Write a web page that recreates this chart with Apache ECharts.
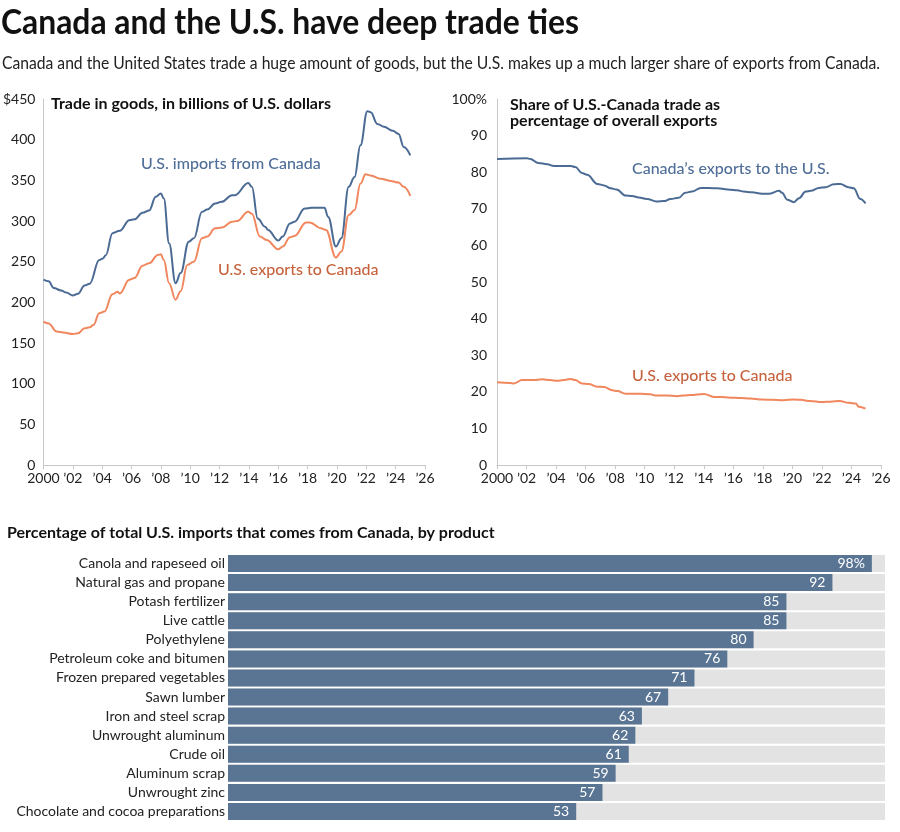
<!DOCTYPE html>
<html><head><meta charset="utf-8">
<script src="https://cdn.jsdelivr.net/npm/echarts@6/dist/echarts.min.js"></script>
<style>html,body{margin:0;padding:0;background:#fff}#c{width:900px;height:832px}</style>
</head><body><div id="c"></div>
<script>
// Left chart: trade in goods (billions USD)
const importsYears = [2000,2000.35,2000.7,2001.2,2001.55,2002.0,2002.35,2002.8,2003.15,2003.8,2004.05,2004.25,2004.7,2005.2,2005.85,2006.2,2006.75,2007.2,2007.65,2008.0,2008.2,2008.56,2009.0,2009.35,2009.9,2010.25,2010.8,2011.15,2011.7,2012.15,2012.85,2013.05,2013.95,2014.2,2014.6,2015.1,2015.3,2016.0,2016.3,2016.8,2017.1,2017.8,2018.25,2019.15,2019.4,2019.93,2020.3,2020.8,2021.2,2021.6,2022.07,2022.3,2022.75,2023.2,2023.8,2024.2,2024.55,2025.0];
const importsValues = [228,226,217.5,214.7,212,208.5,210.6,220.8,223,252,254,258,285,288,301,302,310,313,329.7,333.8,327.6,272.6,223.6,236,274.6,278.7,311.3,314,321.5,323.6,331.7,331.7,346.8,342,303,293,289,275.9,280.8,297,299,315.4,316.2,316.2,305,268.5,278.7,342,354,393,435,433.7,419.4,416,411,407,391,380.7];
const exportsYears = [2000,2000.35,2000.9,2001.35,2002.0,2002.35,2002.8,2003.15,2003.4,2003.8,2004.15,2004.7,2005.05,2005.2,2005.85,2006.2,2006.75,2007.2,2007.8,2008.0,2008.2,2008.56,2009.0,2009.35,2009.8,2010.25,2010.8,2011.15,2011.7,2012.15,2012.85,2013.2,2013.95,2014.2,2014.75,2015.2,2016.0,2016.3,2016.8,2017.1,2017.9,2018.15,2018.9,2019.25,2019.93,2020.3,2020.8,2021.2,2021.6,2021.95,2022.3,2022.97,2023.65,2024.2,2024.55,2025.0];
const exportsValues = [176.3,174,164,163,161,162,168,169.4,172,186.5,188.6,210,213,211,227.7,229.8,245,248,258.3,259,252,223.6,203.3,213.5,246,250,278.7,280.8,291,292,299,300,311.3,309,280.8,276.7,265.3,268.5,280,281.6,298.3,298.3,291,289,255,262.4,307.3,313.4,346,357.4,356,352,349.3,347.2,342,331];

// Right chart: share of trade as % of overall exports
const canShareYears = [2000,2002.03,2002.25,2002.8,2003.4,2003.85,2005.0,2005.3,2005.75,2006.1,2006.8,2007.25,2007.7,2008.1,2008.7,2009.15,2009.6,2010.15,2010.8,2011.3,2011.75,2012.3,2012.75,2013.2,2013.8,2014.9,2015.8,2016.25,2016.7,2017.25,2017.95,2018.4,2019.1,2019.3,2019.65,2020.1,2020.45,2020.9,2021.25,2021.8,2022.25,2022.8,2023.25,2023.8,2024.15,2024.6,2024.95];
const canShareValues = [83.6,83.8,83.6,82.5,82.2,81.7,81.7,81.4,79.8,79.3,76.8,76.4,75.6,75.3,73.6,73.5,73.1,72.7,72,72.1,72.7,73,74.4,74.7,75.7,75.6,75.2,75.1,74.7,74.5,74.1,74.1,74.9,74.4,72.5,71.8,72.9,74.7,74.9,75.7,75.9,76.7,76.8,75.9,75.6,72.7,71.5];
const usShareYears = [2000,2000.9,2001.15,2001.7,2002.5,2003.05,2003.6,2004.06,2004.5,2004.97,2005.3,2005.75,2006.2,2006.8,2007.25,2007.8,2008.15,2008.7,2009.15,2009.7,2010.4,2010.7,2011.5,2012.2,2012.65,2013.1,2014.0,2014.7,2015.15,2015.8,2016.5,2017.15,2017.95,2018.6,2019.4,2020.1,2020.55,2021.2,2022.0,2022.6,2023.2,2023.8,2024.3,2024.5,2024.95];
const usShareValues = [22.6,22.4,22.3,23.2,23.2,23.4,23.2,23,23.2,23.5,23.2,22.3,22.1,21.4,21.3,20.4,20.2,19.5,19.5,19.5,19.3,19,19,18.8,19,19.1,19.4,18.6,18.6,18.4,18.3,18.2,17.9,17.8,17.7,17.9,17.8,17.5,17.2,17.3,17.5,17,16.8,15.9,15.4];

// Bottom chart: share of U.S. imports from Canada by product
const products = ['Canola and rapeseed oil','Natural gas and propane','Potash fertilizer','Live cattle','Polyethylene','Petroleum coke and bitumen','Frozen prepared vegetables','Sawn lumber','Iron and steel scrap','Unwrought aluminum','Crude oil','Aluminum scrap','Unwrought zinc','Chocolate and cocoa preparations'];
const productShares = [98,92,85,85,80,76,71,67,63,62,61,59,57,53];

const FONT = 'Lato, "Open Sans", sans-serif';
const BLUE = '#4c6b94', ORANGE = '#f1875e', BLUE_T = '#4f6e98', ORANGE_T = '#c6633e', BAR = '#5a7594';
const zip = (a, b) => a.map((x, i) => [x, b[i]]);
const yearFmt = v => v === 2000 ? '2000' : '\u2019' + String(v).slice(2);

const TITLE = 'Canada and the U.S. have deep trade ties';
const SUB = 'Canada and the United States trade a huge amount of goods, but the U.S. makes up a much larger share of exports from Canada.';
const TITLE_FONT = 'bold 35px Lato';
const SUB_FONT = '17px Lato';
const mctx = document.createElement('canvas').getContext('2d');
const measure = (t, f) => { mctx.font = f; return mctx.measureText(t).width; };
const titleScale = 578 / measure(TITLE, TITLE_FONT);
const subScale = 878 / measure(SUB, SUB_FONT);

const chart = echarts.init(document.getElementById('c'), null, {renderer: 'canvas'});

const xAxisBase = {
  type: 'value', min: 2000, max: 2026, interval: 2,
  axisLine: {show: true, lineStyle: {color: '#c8c8c8', width: 1}},
  axisTick: {show: true, length: 4, lineStyle: {color: '#c8c8c8'}},
  splitLine: {show: false},
  axisLabel: {formatter: yearFmt, color: '#222', fontSize: 14, fontFamily: FONT, margin: 6}
};
const yAxisBase = {
  type: 'value', min: 0,
  axisLine: {show: true, lineStyle: {color: '#c8c8c8', width: 1}},
  axisTick: {show: false},
  splitLine: {show: false},
  axisLabel: {color: '#222', fontSize: 14, fontFamily: FONT, margin: 8}
};

const option = {
  animation: false,
  backgroundColor: '#fff',
  title: [
    {text: 'Trade in goods, in billions of U.S. dollars', left: 51, top: 96, padding: 0,
     textStyle: {fontFamily: FONT, fontWeight: 'bold', fontSize: 16, color: '#111'}},
    {text: 'Share of U.S.-Canada trade as\npercentage of overall exports', left: 510, top: 97, padding: 0,
     textStyle: {fontFamily: FONT, fontWeight: 'bold', fontSize: 16, color: '#111', lineHeight: 16}},
    {text: 'Percentage of total U.S. imports that comes from Canada, by product', left: 7, top: 525, padding: 0,
     textStyle: {fontFamily: FONT, fontWeight: 'bold', fontSize: 16, color: '#111'}}
  ],
  grid: [
    {left: 40, width: 385, top: 99, height: 366},
    {left: 497, width: 384, top: 99, height: 366},
    {left: 228, width: 657, top: 554, height: 267}
  ],
  xAxis: [
    Object.assign({gridIndex: 0}, xAxisBase),
    Object.assign({gridIndex: 1}, xAxisBase),
    {gridIndex: 2, type: 'value', min: 0, max: 100, show: false}
  ],
  yAxis: [
    Object.assign({}, yAxisBase, {gridIndex: 0, max: 450, interval: 50,
      axisLabel: Object.assign({}, yAxisBase.axisLabel, {formatter: v => v === 450 ? '$450' : String(v)})}),
    Object.assign({}, yAxisBase, {gridIndex: 1, max: 100, interval: 10,
      axisLabel: Object.assign({}, yAxisBase.axisLabel, {margin: 10, formatter: v => v === 100 ? '100%' : String(v)})}),
    {gridIndex: 2, type: 'category', data: products, inverse: true,
     axisLine: {show: false}, axisTick: {show: false},
     axisLabel: {interval: 0, color: '#222', fontSize: 14, fontFamily: FONT, margin: 3}}
  ],
  series: [
    {type: 'line', xAxisIndex: 0, yAxisIndex: 0, data: zip(importsYears, importsValues), smooth: 0.4, smoothMonotone: 'x',
     showSymbol: false, lineStyle: {color: BLUE, width: 2}},
    {type: 'line', xAxisIndex: 0, yAxisIndex: 0, data: zip(exportsYears, exportsValues), smooth: 0.4, smoothMonotone: 'x',
     showSymbol: false, lineStyle: {color: ORANGE, width: 2}},
    {type: 'line', xAxisIndex: 1, yAxisIndex: 1, data: zip(canShareYears, canShareValues), smooth: 0.4, smoothMonotone: 'x',
     showSymbol: false, lineStyle: {color: BLUE, width: 2}},
    {type: 'line', xAxisIndex: 1, yAxisIndex: 1, data: zip(usShareYears, usShareValues), smooth: 0.4, smoothMonotone: 'x',
     showSymbol: false, lineStyle: {color: ORANGE, width: 2}},
    {type: 'bar', xAxisIndex: 2, yAxisIndex: 2, data: productShares, barWidth: 17,
     itemStyle: {color: BAR},
     showBackground: true, backgroundStyle: {color: '#e3e3e3'},
     label: {show: true, position: 'insideRight', distance: 7, color: '#fff', fontSize: 14, fontFamily: FONT,
       formatter: p => p.dataIndex === 0 ? p.value + '%' : String(p.value)}}
  ],
  graphic: [
    {type: 'text', x: 1, y: 5, scaleX: titleScale, style: {text: TITLE, fill: '#111', font: TITLE_FONT, verticalAlign: 'top'}},
    {type: 'text', x: 2, y: 55, scaleX: subScale, style: {text: SUB, fill: '#222', font: SUB_FONT, verticalAlign: 'top'}},
    {type: 'text', left: 141, top: 156, style: {text: 'U.S. imports from Canada', fill: BLUE_T, font: '500 16px ' + FONT}},
    {type: 'text', left: 218, top: 262, style: {text: 'U.S. exports to Canada', fill: ORANGE_T, font: '500 16px ' + FONT}},
    {type: 'text', left: 632, top: 161, style: {text: 'Canada\u2019s exports to the U.S.', fill: BLUE_T, font: '500 16px ' + FONT}},
    {type: 'text', left: 632, top: 368, style: {text: 'U.S. exports to Canada', fill: ORANGE_T, font: '500 16px ' + FONT}}
  ]
};
chart.setOption(option);
</script></body></html>
